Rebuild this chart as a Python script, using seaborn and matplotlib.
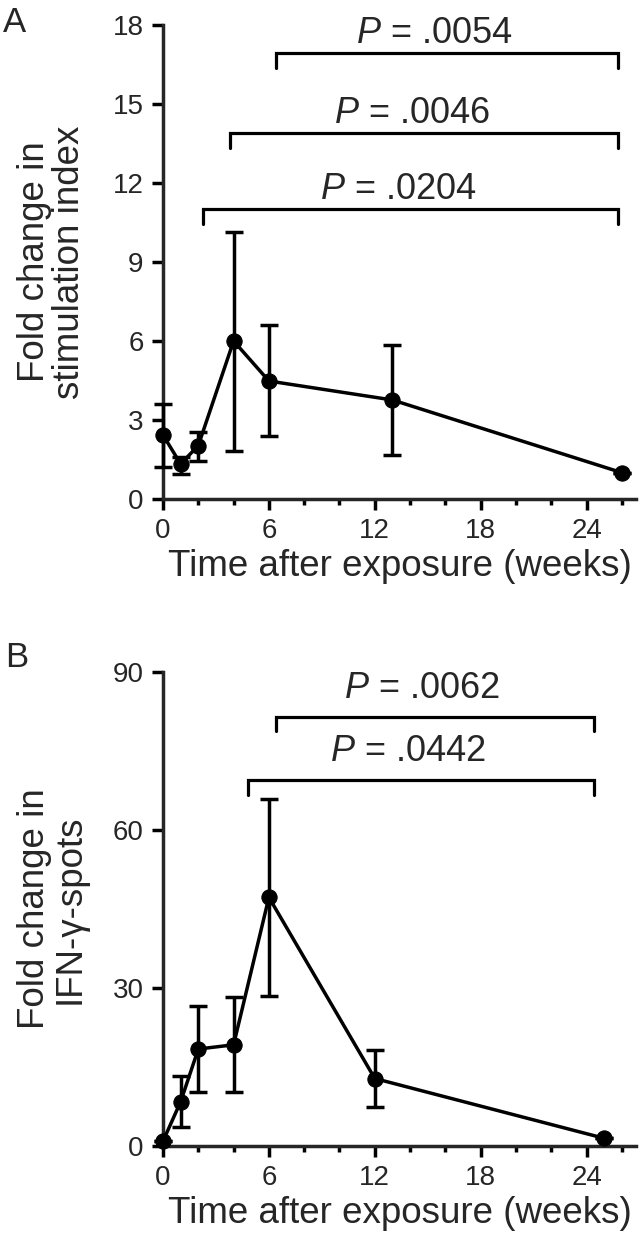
import numpy as np
import pandas as pd
import seaborn as sns
import matplotlib
matplotlib.use('Agg')
import matplotlib.pyplot as plt

# Panel A: stimulation index
weeks_a = [0, 1, 2, 4, 6, 13, 26]
fold_a = [2.43, 1.33, 2.03, 6.0, 4.48, 3.76, 1.0]
low_a = [1.23, 0.95, 1.46, 1.82, 2.41, 1.66, 1.0]
high_a = [3.59, 1.6, 2.53, 10.15, 6.61, 5.86, 1.0]

# Panel B: IFN-gamma spots
weeks_b = [0, 1, 2, 4, 6, 12, 25]
fold_b = [0.9, 8.4, 18.4, 19.2, 47.2, 12.8, 1.45]
low_b = [0.9, 3.6, 10.2, 10.2, 28.5, 7.4, 1.45]
high_b = [0.9, 13.2, 26.5, 28.2, 65.8, 18.3, 1.45]

# significance brackets: start week, end week, height, label
brackets_a = [(6.4, 25.8, 16.92, '.0054'),
              (3.77, 25.8, 13.89, '.0046'),
              (2.27, 25.8, 11.0, '.0204')]
brackets_b = [(6.4, 24.4, 81.5, '.0062'),
              (4.8, 24.4, 69.4, '.0442')]

sns.set_style('ticks')
plt.rcParams['font.family'] = ['Liberation Sans', 'DejaVu Sans']
plt.rcParams['mathtext.fontset'] = 'custom'
plt.rcParams['mathtext.it'] = 'Liberation Sans:italic'
plt.rcParams['mathtext.rm'] = 'Liberation Sans'

fig = plt.figure(figsize=(6.43, 12.41), dpi=100)
ax_a = fig.add_axes([0.2535, 0.5979, 0.7356, 0.382])
ax_b = fig.add_axes([0.2535, 0.0766, 0.7356, 0.382])


def draw_panel(ax, weeks, fold, low, high, ymax, ystep, brackets, ylabel, tick_drop, text_off):
    df = pd.DataFrame({'week': weeks, 'fold': fold})
    yerr = [np.array(fold) - np.array(low), np.array(high) - np.array(fold)]
    ax.errorbar(weeks, fold, yerr=yerr, fmt='none', ecolor='black',
                elinewidth=2.5, capsize=6.5, capthick=2.5, clip_on=False, zorder=3)
    sns.lineplot(data=df, x='week', y='fold', ax=ax, color='black', lw=2.5,
                 marker='o', markersize=11, markeredgecolor='black',
                 clip_on=False, zorder=4)

    for x0, x1, y, lab in brackets:
        ax.plot([x0, x0, x1, x1], [y - tick_drop, y, y, y - tick_drop],
                color='black', lw=2.3, clip_on=False, solid_joinstyle='miter')
        ax.text((x0 + x1) / 2 - 0.7, y + text_off, r'$\it{P}$ = ' + lab,
                ha='center', va='baseline', fontsize=26)

    ax.set_xlim(0, 26.8)
    ax.set_ylim(0, ymax)
    ax.set_xticks([0, 6, 12, 18, 24])
    ax.set_xticks(np.arange(2, 27, 2), minor=True)
    ax.set_yticks(np.arange(0, ymax + 1, ystep))
    sns.despine(ax=ax)
    for s in ['left', 'bottom']:
        ax.spines[s].set_linewidth(2.5)
    ax.tick_params(axis='both', which='major', length=8, width=2.5,
                   labelsize=20, pad=6, color='black')
    ax.tick_params(axis='x', which='minor', length=4.5, width=2.5, color='black')
    ax.set_xlabel('Time after exposure (weeks)', fontsize=26.5)
    ax.set_ylabel(ylabel, fontsize=26.5, linespacing=1.0)
    ax.xaxis.set_label_coords(0.5, -0.105)
    ax.yaxis.set_label_coords(-0.16, 0.5)


draw_panel(ax_a, weeks_a, fold_a, low_a, high_a, 18, 3, brackets_a,
           'Fold change in\nstimulation index', 0.57, 0.4)
draw_panel(ax_b, weeks_b, fold_b, low_b, high_b, 90, 30, brackets_b,
           'Fold change in\nIFN-γ-spots', 2.7, 3.6)

fig.text(0.004, 1 - 32 / 1241, 'A', fontsize=25, va='baseline')
fig.text(0.008, 1 - 667 / 1241, 'B', fontsize=25, va='baseline')

fig.savefig('out.png', dpi=100)
